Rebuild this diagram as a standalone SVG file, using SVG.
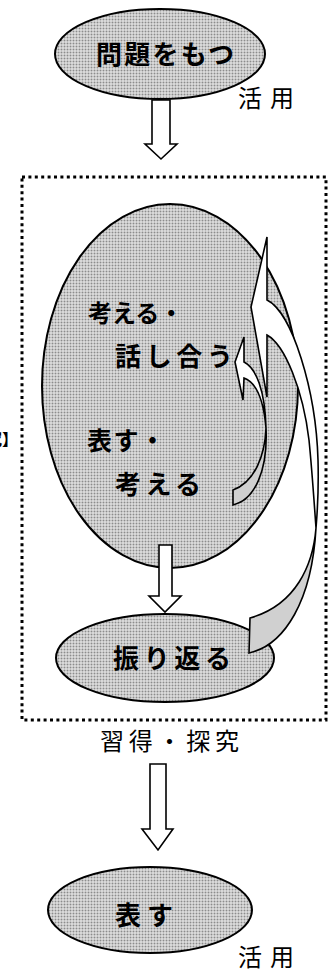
<svg xmlns="http://www.w3.org/2000/svg" width="335" height="972" viewBox="0 0 335 972">
<defs>
<pattern id="dots" width="3" height="3" patternUnits="userSpaceOnUse">
<rect width="3" height="3" fill="#f2f2f2"/>
<rect x="0.5" y="0.5" width="2" height="2" fill="#8c8c8c"/>
</pattern>
</defs>
<style>
.node{fill:url(#dots);stroke:#000;stroke-width:2}
.bt{font-family:"Noto Sans CJK JP",sans-serif;font-weight:700;font-size:26px;fill:#000}
.rt{font-family:"Noto Sans CJK JP",sans-serif;font-weight:400;font-size:24px;fill:#000}
.blk{fill:#fff;stroke:#000;stroke-width:1.6;stroke-linejoin:miter}
.cw{fill:#fff;stroke:#000;stroke-width:1.6;stroke-linejoin:miter}
.cg{fill:#d0d0d0;stroke:#000;stroke-width:1.6;stroke-linejoin:miter}
.frame{fill:none;stroke:#000;stroke-width:3;stroke-dasharray:3 3.4}
</style>
<rect id="frame" class="frame" x="22" y="177" width="304" height="543"/>
<text class="bt" x="18" y="445" text-anchor="end" style="font-size:16px">究】</text>
<g id="n1">
<ellipse class="node" cx="160" cy="54" rx="105" ry="45"/>
<text class="bt" x="96" y="64" textLength="138" lengthAdjust="spacing">問題をもつ</text>
</g>
<text class="rt" x="238" y="107" textLength="56" lengthAdjust="spacing">活用</text>
<g id="n2">
<ellipse class="node" cx="170" cy="386" rx="128" ry="182"/>
<text class="bt" x="88" y="322" style="font-size:24px">考える・</text>
<text class="bt" x="115" y="366" textLength="118" lengthAdjust="spacing">話し合う</text>
<text class="bt" x="87" y="450" textLength="78" lengthAdjust="spacing" style="font-size:25px">表す・</text>
<text class="bt" x="115" y="494" textLength="86" lengthAdjust="spacing">考える</text>
</g>
<g id="n3">
<ellipse class="node" cx="165" cy="658" rx="109" ry="44"/>
<text class="bt" x="113" y="668" textLength="118" lengthAdjust="spacing">振り返る</text>
</g>
<text class="rt" x="100" y="750" textLength="139" lengthAdjust="spacing">習得・探究</text>
<g id="n4">
<ellipse class="node" cx="150" cy="910" rx="102" ry="43"/>
<text class="bt" x="115" y="925" textLength="58" lengthAdjust="spacing">表す</text>
</g>
<text class="rt" x="238" y="966" textLength="56" lengthAdjust="spacing">活用</text>
<g id="connectors">
<path class="blk" d="M152,100 L170,100 L170,144 L177,144 L161,159 L145,144 L152,144 Z"/>
<path class="blk" d="M159,545 L172,545 L172,596 L181,596 L165,612 L149,596 L159,596 Z"/>
<path class="blk" d="M150,764 L166,764 L166,829 L173,829 L158,850 L142,829 L150,829 Z"/>
<path class="cg" d="M266,428 C265,455 255,482 233,490 L233,505 C255,500 268,470 266,428 Z"/>
<path class="cw" d="M244,337 L244,362 C256,368 265,390 266,428 C264,405 258,383 244,378 L243,400 L235,362 Z"/>
<path class="cg" d="M316,528 C313,565 296,605 250,618 L249,653 C285,645 312,600 316,528 Z"/>
<path class="cw" d="M267,237 L267,300 C292,312 316,390 318,460 C319,495 317,515 316,528 C314,500 312,470 309,440 C303,390 285,345 267,335 L267,397 L251,307 Z"/>
</g>
</svg>
